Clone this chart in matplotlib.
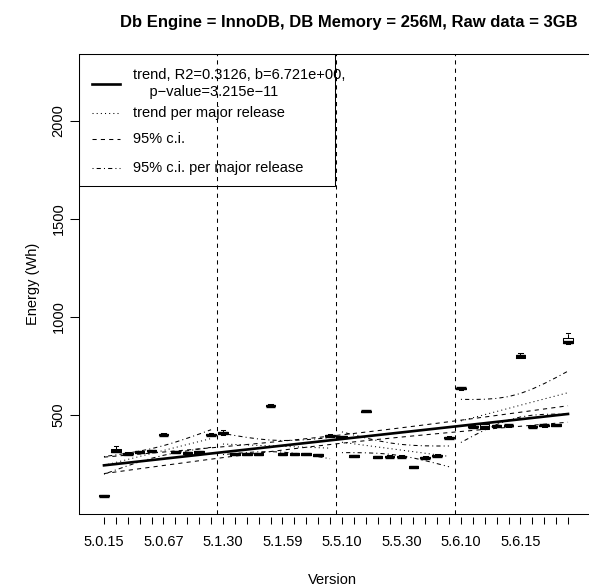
import numpy as np
import matplotlib
matplotlib.use("Agg")
import matplotlib.pyplot as plt
from matplotlib.patches import Rectangle

# ─── DATA ─────────────────────────────────────────────────────────────────────
VERSIONS = [
    "5.0.15", "5.0.27", "5.0.37", "5.0.45", "5.0.51", "5.0.67", "5.0.77", "5.0.85", "5.0.91", "5.0.96",
    "5.1.30", "5.1.34", "5.1.40", "5.1.45", "5.1.50", "5.1.59", "5.1.63", "5.1.67", "5.1.70", "5.1.73",
    "5.5.10", "5.5.14", "5.5.18", "5.5.22", "5.5.27", "5.5.30", "5.5.35", "5.5.40", "5.5.45", "5.5.50",
    "5.6.10", "5.6.11", "5.6.12", "5.6.13", "5.6.14", "5.6.15", "5.6.16", "5.6.17", "5.6.19", "5.6.20",
]
MEDIAN = [88, 318, 303, 310, 318, 400, 312, 307, 311, 400,
          409, 300, 300, 300, 548, 302, 300, 300, 297, 395,
          387, 290, 519, 286, 288, 288, 234, 283, 293, 385,
          636, 441, 437, 444, 447, 801, 441, 447, 450, 872]
Q1 = [85, 313, 299, 306, 314, 396, 308, 303, 307, 396,
      401, 296, 296, 296, 544, 298, 296, 296, 293, 391,
      383, 286, 515, 282, 284, 284, 230, 279, 289, 381,
      632, 437, 430, 440, 443, 793, 437, 443, 446, 866]
Q3 = [92, 326, 307, 314, 322, 404, 316, 311, 315, 404,
      414, 304, 304, 304, 552, 306, 304, 304, 301, 399,
      391, 294, 523, 290, 292, 292, 238, 287, 297, 389,
      640, 445, 452, 448, 451, 808, 445, 451, 454, 895]
WHISKER_LO = [82, 310, 297, 304, 312, 394, 306, 301, 305, 394,
              397, 294, 294, 294, 542, 296, 294, 294, 291, 389,
              381, 284, 513, 280, 282, 282, 228, 277, 287, 379,
              630, 435, 428, 438, 441, 790, 435, 441, 444, 862]
WHISKER_HI = [94, 340, 309, 316, 324, 406, 318, 313, 317, 406,
              425, 306, 306, 306, 554, 308, 306, 306, 303, 401,
              393, 296, 526, 292, 294, 294, 240, 289, 299, 391,
              642, 447, 456, 450, 453, 818, 447, 453, 456, 918]

# overall linear trend (per version index) and 95% c.i. half-width at the ends
TREND_INTERCEPT = 236.5
TREND_SLOPE = 6.721
TREND_R2 = 0.3126
TREND_PVALUE = 3.215e-11
TREND_CI_END = 42

# trend per major release: value at first and last version, c.i. half-width at ends
RELEASES = ["5.0", "5.1", "5.5", "5.6"]
REL_START = [243, 352, 361, 470]
REL_END = [380, 331, 289, 614]
REL_CI_END = [45, 54, 53, 110]

TITLE = "Db Engine = InnoDB, DB Memory = 256M, Raw data = 3GB"
LABEL_EVERY = 5   # R drops the overlapping version labels
# ──────────────────────────────────────────────────────────────────────────────

DOTTED = (0, (1, 3))
DASHED = (0, (4, 4))
DOTDASH = (0, (1, 3, 4, 3))

plt.rcParams["font.family"] = ["Liberation Sans", "DejaVu Sans"]
FS = 10.5


def ci_halfwidth(xs, end_hw):
    """Hyperbolic confidence band shape for a linear fit over xs."""
    xs = np.asarray(xs, dtype=float)
    m = xs.mean()
    sxx = ((xs - m) ** 2).sum()
    n = len(xs)
    shape = np.sqrt(1 / n + (xs - m) ** 2 / sxx)
    return end_hw * shape / shape[0]


fig = plt.figure(figsize=(5.89, 5.86), dpi=100)
W, H = 589, 586
L, R, T, B = 79, 593, 54, 514
ax = fig.add_axes([L / W, (H - B) / H, (R - L) / W, (B - T) / H])

pos = np.arange(1, len(VERSIONS) + 1)

# boxes
stats = []
for k, v in enumerate(VERSIONS):
    stats.append(dict(label=v, med=MEDIAN[k], q1=Q1[k], q3=Q3[k],
                      whislo=WHISKER_LO[k], whishi=WHISKER_HI[k], fliers=[]))
ax.bxp(stats, positions=pos, widths=0.8, capwidths=0.4, showfliers=False,
       manage_ticks=False,
       boxprops=dict(color="black", lw=0.75),
       medianprops=dict(color="black", lw=2.4, solid_capstyle="butt"),
       whiskerprops=dict(color="black", lw=0.75, linestyle=DASHED),
       capprops=dict(color="black", lw=0.75))

# major release boundaries
majors = [".".join(v.split(".")[:2]) for v in VERSIONS]
for k in range(1, len(majors)):
    if majors[k] != majors[k - 1]:
        ax.axvline(k + 0.5, color="black", lw=0.75, linestyle=DASHED, zorder=7)

# overall trend and c.i.
trend = TREND_INTERCEPT + TREND_SLOPE * pos
hw = ci_halfwidth(pos, TREND_CI_END)
ax.plot(pos, trend, color="black", lw=1.9)
ax.plot(pos, trend + hw, color="black", lw=0.75, linestyle=DASHED)
ax.plot(pos, trend - hw, color="black", lw=0.75, linestyle=DASHED)

# trend per major release
for r, name in enumerate(RELEASES):
    xs = pos[[m == name for m in majors]]
    yt = np.linspace(REL_START[r], REL_END[r], len(xs))
    rhw = ci_halfwidth(xs, REL_CI_END[r])
    ax.plot(xs, yt, color="black", lw=0.75, linestyle=DOTTED)
    ax.plot(xs, yt + rhw, color="black", lw=0.75, linestyle=DOTDASH)
    ax.plot(xs, yt - rhw, color="black", lw=0.75, linestyle=DOTDASH)

ax.set_xlim(-1.1, 42.1)
ax.set_ylim(-5, 2342)

# every version gets a tick, only every fifth gets its label
ax.set_xticks(pos[::LABEL_EVERY])
ax.set_xticklabels(VERSIONS[::LABEL_EVERY])
ax.set_xticks([p for k, p in enumerate(pos) if k % LABEL_EVERY], minor=True)
ax.set_yticks([500, 1000, 1500, 2000])
ax.set_yticklabels(["500", "1000", "1500", "2000"], rotation=90, va="center")

ax.spines["bottom"].set_position(("outward", 2.2))
ax.spines["bottom"].set_visible(False)
ax.plot([0, 1], [0, 0], transform=ax.transAxes, color="black", lw=0.75, clip_on=False)
for s in ["left", "top", "right"]:
    ax.spines[s].set_linewidth(0.75)
ax.tick_params(axis="x", which="both", length=4.7, width=0.75, pad=8.0, labelsize=FS)
ax.tick_params(axis="y", length=6.5, width=0.75, pad=3.3, labelsize=FS)

ax.set_xlabel("Version", fontsize=FS)
ax.xaxis.set_label_coords((332 - L) / (R - L), (B - 573) / (B - T))
ax.set_ylabel("Energy (Wh)", fontsize=FS)
ax.yaxis.set_label_coords((40 - L) / (R - L), 0.5)
fig.text(349 / W, 1 - 22 / H, TITLE, ha="center", va="center",
         fontsize=12.0, fontweight="bold")


# legend drawn by hand, R style (no fill, so the release lines show through)
def ax_xy(px, py):
    return (px - L) / (R - L), (B - py) / (B - T)


x0, y0 = ax_xy(79, 54)
x1, y1 = ax_xy(335, 186)
ax.add_patch(Rectangle((x0, y1), x1 - x0, y0 - y1, transform=ax.transAxes,
                       facecolor="none", edgecolor="black", lw=0.75, zorder=5))
entries = [
    ("-", 1.9, 83.5,
     f"trend, R2={TREND_R2:.4f}, b={TREND_SLOPE:.3e},\n    p\u2212value={TREND_PVALUE:.3e}".replace("e-", "e\u2212")),
    (DOTTED, 0.75, 112.7, "trend per major release"),
    (DASHED, 0.75, 139.3, "95% c.i."),
    (DOTDASH, 0.75, 168.3, "95% c.i. per major release"),
]
for ls, lw, py, text in entries:
    sx0, sy = ax_xy(92, py)
    sx1, _ = ax_xy(120, py)
    tx, _ = ax_xy(133, py)
    ax.plot([sx0, sx1], [sy, sy], transform=ax.transAxes, color="black",
            lw=lw, linestyle=ls, zorder=6, clip_on=False)
    ax.text(tx, sy, text, transform=ax.transAxes, ha="left", va="center",
            fontsize=FS, linespacing=1.3, zorder=6)

fig.savefig("out.png", dpi=100)
